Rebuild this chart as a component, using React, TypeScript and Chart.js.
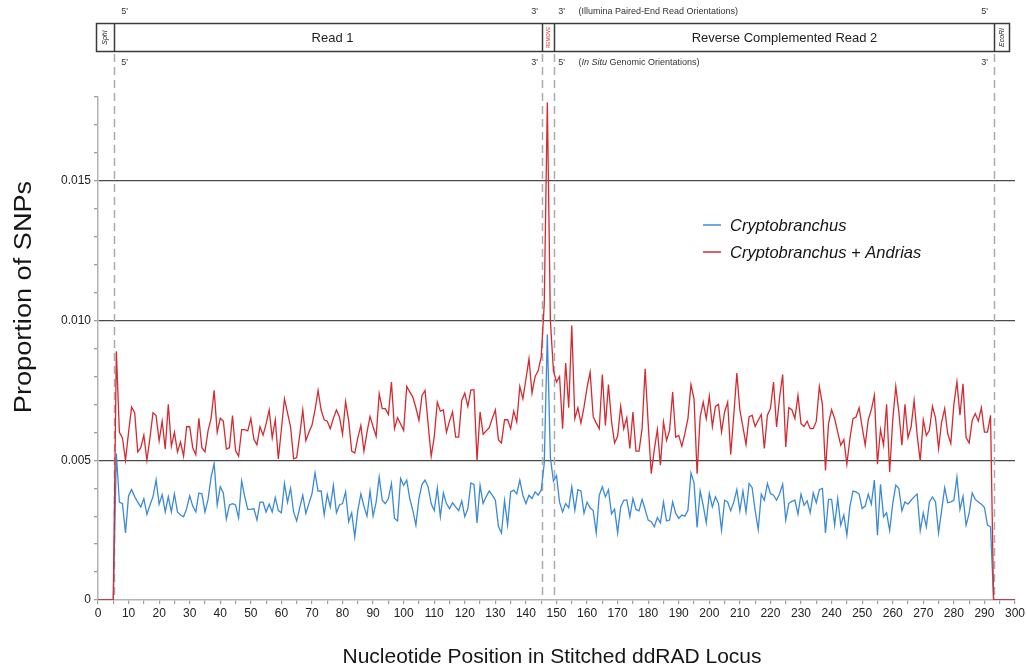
import React, { useEffect, useRef } from "react";
import { Chart, registerables } from "chart.js";

Chart.register(...registerables);

// Nucleotide positions 0..300 (x categories)
const positions: number[] = Array.from({ length: 301 }, (_, i) => i);

// Proportion of SNPs per position – Cryptobranchus (blue)
const cryptobranchus: number[] = [
  0, 0, 0, 0, 0, 0, 0.00524, 0.0035, 0.00345, 0.0024,
  0.00373, 0.00395, 0.0037, 0.0035, 0.00333, 0.00363, 0.00306, 0.0034, 0.0037, 0.0043,
  0.00343, 0.00377, 0.00315, 0.0037, 0.00315, 0.0038, 0.00315, 0.00304, 0.00298, 0.00327,
  0.00373, 0.00336, 0.00315, 0.00383, 0.0038, 0.00315, 0.0036, 0.0044, 0.00488, 0.0034,
  0.00405, 0.00383, 0.0029, 0.0034, 0.00345, 0.0034, 0.00294, 0.00426, 0.0037, 0.00324,
  0.00324, 0.00327, 0.00286, 0.0035, 0.0035, 0.00315, 0.00343, 0.00315, 0.00367, 0.0032,
  0.00312, 0.00417, 0.0035, 0.004, 0.00315, 0.00283, 0.0033, 0.00375, 0.0031, 0.00345,
  0.0038, 0.00455, 0.0039, 0.0039, 0.00305, 0.00378, 0.00333, 0.0041, 0.00312, 0.0034,
  0.00345, 0.00387, 0.0028, 0.00312, 0.00226, 0.0032, 0.0038, 0.00336, 0.003, 0.0039,
  0.003, 0.0035, 0.0044, 0.00357, 0.00345, 0.00363, 0.00417, 0.00292, 0.00283, 0.00435,
  0.0041, 0.00429, 0.00363, 0.0032, 0.00268, 0.00363, 0.00414, 0.00429, 0.00405, 0.00345,
  0.0032, 0.004, 0.00298, 0.00383, 0.00345, 0.00327, 0.00348, 0.00333, 0.0032, 0.00355,
  0.00298, 0.00327, 0.00419, 0.00414, 0.00276, 0.0041, 0.00345, 0.0037, 0.0039, 0.00375,
  0.00357, 0.00264, 0.0024, 0.00355, 0.00268, 0.00387, 0.00393, 0.0038, 0.00429, 0.00375,
  0.00345, 0.00375, 0.00363, 0.00387, 0.00375, 0.00393, 0.0049, 0.0095, 0.0051, 0.00425,
  0.00445, 0.0035, 0.00315, 0.00345, 0.0033, 0.00405, 0.00321, 0.00395, 0.0039, 0.0031,
  0.0035, 0.0033, 0.0032, 0.0024, 0.00375, 0.00405, 0.00369, 0.00395, 0.00308, 0.00325,
  0.0024, 0.00332, 0.00357, 0.00358, 0.00298, 0.00363, 0.00324, 0.00319, 0.0036, 0.00324,
  0.00286, 0.0028, 0.00262, 0.00295, 0.00276, 0.00351, 0.00283, 0.00286, 0.00351, 0.0031,
  0.00292, 0.00304, 0.003, 0.00321, 0.00455, 0.00419, 0.0026, 0.0039, 0.00339, 0.00276,
  0.00381, 0.00333, 0.00369, 0.00345, 0.0025, 0.00357, 0.00351, 0.00319, 0.00351, 0.00395,
  0.00319, 0.0039, 0.00315, 0.00417, 0.00402, 0.00319, 0.00252, 0.00379, 0.00357, 0.00417,
  0.00381, 0.00375, 0.00357, 0.0038, 0.00414, 0.00286, 0.00346, 0.00353, 0.00357, 0.00307,
  0.00379, 0.00339, 0.00355, 0.00312, 0.00383, 0.00348, 0.00395, 0.00399, 0.0024, 0.0036,
  0.0036, 0.00268, 0.00363, 0.00268, 0.00304, 0.00232, 0.00336, 0.0039, 0.00387, 0.00379,
  0.00327, 0.00336, 0.00379, 0.00343, 0.00429, 0.00232, 0.00414, 0.00298, 0.00312, 0.00248,
  0.00345, 0.00411, 0.00399, 0.00319, 0.00351, 0.00343, 0.00357, 0.00369, 0.00379, 0.00248,
  0.00312, 0.00262, 0.00351, 0.00369, 0.00351, 0.0024, 0.00321, 0.00402, 0.00348, 0.00351,
  0.00357, 0.0044, 0.00324, 0.00371, 0.00268, 0.0031, 0.00383, 0.0036, 0.00351, 0.00343,
  0.00331, 0.00268, 0.00262, 0, 0, 0, 0, 0, 0, 0,
  0,
];

// Proportion of SNPs per position – Cryptobranchus + Andrias (red)
const cryptobranchusAndrias: number[] = [
  0, 0, 0, 0, 0, 0, 0.0089, 0.006, 0.0058, 0.005,
  0.006, 0.0069, 0.0067, 0.0053, 0.00545, 0.0059, 0.005, 0.0058, 0.0067, 0.0066,
  0.0057, 0.0064, 0.0054, 0.007, 0.0055, 0.006, 0.0053, 0.00565, 0.00515, 0.0062,
  0.0062, 0.00545, 0.0052, 0.0065, 0.00545, 0.0053, 0.00605, 0.0065, 0.0075, 0.006,
  0.0065, 0.0064, 0.0054, 0.00545, 0.0066, 0.00535, 0.00515, 0.0061, 0.0061, 0.00605,
  0.0065, 0.00575, 0.00555, 0.0062, 0.0059, 0.0063, 0.0068, 0.0058, 0.00645, 0.00505,
  0.0061, 0.0072, 0.0067, 0.0062, 0.00505, 0.0051, 0.0059, 0.0068, 0.0057, 0.006,
  0.00625, 0.0068, 0.0075, 0.0068, 0.00645, 0.0064, 0.00613, 0.0065, 0.0068, 0.00655,
  0.00593, 0.0071, 0.00643, 0.00533, 0.00526, 0.0058, 0.00625, 0.00533, 0.006, 0.00657,
  0.0062, 0.00586, 0.00738, 0.00685, 0.00685, 0.00664, 0.0078, 0.00613, 0.00652, 0.0063,
  0.00607, 0.00764, 0.00745, 0.00726, 0.00688, 0.00643, 0.00732, 0.0075, 0.0063, 0.00514,
  0.00583, 0.00708, 0.00676, 0.0068, 0.006, 0.0064, 0.00673, 0.00583, 0.00583, 0.00714,
  0.0074, 0.00693, 0.00752, 0.00752, 0.005, 0.00673, 0.00593, 0.00605, 0.00617, 0.0065,
  0.0068, 0.00574, 0.00562, 0.00645, 0.00645, 0.00613, 0.00676, 0.00637, 0.00764, 0.0072,
  0.0079, 0.00863, 0.0074, 0.008, 0.0082, 0.0087, 0.0106, 0.0178, 0.01, 0.0082,
  0.0078, 0.008, 0.00613, 0.00848, 0.00688, 0.00982, 0.00649, 0.00688, 0.00633, 0.0069,
  0.0076, 0.00815, 0.00657, 0.00633, 0.00613, 0.00807, 0.00625, 0.00771, 0.0064, 0.00562,
  0.00586, 0.00693, 0.00613, 0.00652, 0.00542, 0.00673, 0.00533, 0.00533, 0.00613, 0.00827,
  0.00631, 0.00452, 0.00538, 0.0061, 0.00482, 0.00637, 0.00571, 0.00607, 0.00744, 0.00583,
  0.00589, 0.0055, 0.00595, 0.00649, 0.00771, 0.0072, 0.00452, 0.00655, 0.00708, 0.00649,
  0.00729, 0.00621, 0.00693, 0.007, 0.00601, 0.00673, 0.00708, 0.00521, 0.00661, 0.00812,
  0.00679, 0.00619, 0.00557, 0.00655, 0.00661, 0.00621, 0.00643, 0.00664, 0.00542, 0.00661,
  0.00685, 0.0078, 0.00619, 0.00726, 0.00807, 0.00548, 0.00688, 0.00681, 0.0065, 0.00732,
  0.00631, 0.00621, 0.0064, 0.00613, 0.00613, 0.0064, 0.00764, 0.007, 0.00464, 0.00631,
  0.00681, 0.00649, 0.00601, 0.00554, 0.00574, 0.00486, 0.00577, 0.00649, 0.00655, 0.00688,
  0.00619, 0.00554, 0.00645, 0.00681, 0.00732, 0.00486, 0.0061, 0.00554, 0.007, 0.00458,
  0.00643, 0.00764, 0.00673, 0.00554, 0.007, 0.00581, 0.00619, 0.00714, 0.00589, 0.00498,
  0.00645, 0.00589, 0.00607, 0.00693, 0.00652, 0.00542, 0.00637, 0.00685, 0.00595, 0.0056,
  0.007, 0.0078, 0.00661, 0.00774, 0.00581, 0.00562, 0.00643, 0.00667, 0.0064, 0.00688,
  0.00601, 0.00601, 0.00661, 0, 0, 0, 0, 0, 0, 0,
  0,
];

// Locus section boundaries (nucleotide positions of the dashed lines)
const sectionBounds: number[] = [5.3, 145.4, 149.2, 293.2];
const locusExtent: number[] = [-0.5, 298];
const majorYTicks: number[] = [0, 0.005, 0.01, 0.015];
const seriesNames: string[] = ["Cryptobranchus", "Cryptobranchus + Andrias"];
const seriesColors: string[] = ["#3a8ad6", "#d42a30"];

const FONT = '"Liberation Sans", Arial, Helvetica, sans-serif';

const isMajorY = (v: number) => majorYTicks.some((m) => Math.abs(m - v) < 1e-7);

const decorPlugin = {
  id: "decor",
  beforeDatasetsDraw(chart: any) {
    const { ctx, scales } = chart;
    const x = scales.x;
    const y = scales.y;
    ctx.save();
    ctx.strokeStyle = "#ababab";
    ctx.lineWidth = 1.5;
    ctx.setLineDash([8, 5]);
    for (const b of sectionBounds) {
      const px = Math.round(x.getPixelForValue(b)) + 0.5;
      ctx.beginPath();
      ctx.moveTo(px, 54);
      ctx.lineTo(px, y.getPixelForValue(0));
      ctx.stroke();
    }
    ctx.restore();
  },
  afterDraw(chart: any) {
    const { ctx, scales } = chart;
    const x = scales.x;
    const bx = [
      x.getPixelForValue(locusExtent[0]),
      ...sectionBounds.map((b) => x.getPixelForValue(b)),
      x.getPixelForValue(locusExtent[1]),
    ].map((v) => Math.round(v) + 0.5);
    const top = 23.5;
    const h = 28;
    const mid = top + h / 2;

    ctx.save();
    // header box
    ctx.strokeStyle = "#3a3a3a";
    ctx.lineWidth = 1.5;
    ctx.strokeRect(bx[0], top, bx[5] - bx[0], h);
    for (let i = 1; i < 5; i++) {
      ctx.beginPath();
      ctx.moveTo(bx[i], top);
      ctx.lineTo(bx[i], top + h);
      ctx.stroke();
    }

    ctx.fillStyle = "#1e1e1e";
    ctx.textAlign = "center";
    ctx.textBaseline = "middle";
    ctx.font = `13px ${FONT}`;
    ctx.fillText("Read 1", (bx[1] + bx[2]) / 2 + 4, mid + 0.5);
    ctx.fillText("Reverse Complemented Read 2", (bx[3] + bx[4]) / 2 + 10, mid + 0.5);

    const vertical = (text: string, cx: number, font: string, color: string) => {
      ctx.save();
      ctx.translate(cx, mid);
      ctx.rotate(-Math.PI / 2);
      ctx.font = font;
      ctx.fillStyle = color;
      ctx.fillText(text, 0, 0);
      ctx.restore();
    };
    vertical("SphI", (bx[0] + bx[1]) / 2, `italic 7px ${FONT}`, "#222");
    vertical("REMOVE", (bx[2] + bx[3]) / 2, `5px ${FONT}`, "#e02424");
    vertical("EcoRI", (bx[4] + bx[5]) / 2, `italic 7px ${FONT}`, "#222");

    // orientation labels
    ctx.font = `9px ${FONT}`;
    ctx.fillStyle = "#333";
    const rowTop = 12;
    const rowBot = 62.5;
    ctx.textAlign = "center";
    ctx.fillText("5'", bx[1] + 10, rowTop);
    ctx.fillText("3'", bx[2] - 8, rowTop);
    ctx.fillText("3'", bx[3] + 7, rowTop);
    ctx.fillText("5'", bx[4] - 10, rowTop);
    ctx.fillText("5'", bx[1] + 10, rowBot);
    ctx.fillText("3'", bx[2] - 8, rowBot);
    ctx.fillText("5'", bx[3] + 7, rowBot);
    ctx.fillText("3'", bx[4] - 10, rowBot);
    ctx.textAlign = "left";
    ctx.fillText("(Illumina Paired-End Read Orientations)", bx[3] + 24, rowTop);
    let cx = bx[3] + 24;
    const parts: [string, boolean][] = [
      ["(", false],
      ["In Situ", true],
      [" Genomic Orientations)", false],
    ];
    for (const [t, it] of parts) {
      ctx.font = `${it ? "italic " : ""}9px ${FONT}`;
      ctx.fillText(t, cx, rowBot);
      cx += ctx.measureText(t).width;
    }

    // legend
    const legendY = [225, 252];
    for (let i = 0; i < 2; i++) {
      ctx.strokeStyle = seriesColors[i];
      ctx.lineWidth = 1.5;
      ctx.beginPath();
      ctx.moveTo(703, legendY[i]);
      ctx.lineTo(721, legendY[i]);
      ctx.stroke();
      ctx.font = `italic 16.5px ${FONT}`;
      ctx.fillStyle = "#151515";
      ctx.textAlign = "left";
      ctx.fillText(seriesNames[i], 730, legendY[i] + 1);
    }

    // axis titles
    ctx.fillStyle = "#151515";
    ctx.textAlign = "center";
    ctx.font = `21px ${FONT}`;
    ctx.fillText("Nucleotide Position in Stitched ddRAD Locus", 552, 657);
    ctx.save();
    ctx.translate(25, 297);
    ctx.rotate(-Math.PI / 2);
    ctx.scale(1.18, 1);
    ctx.font = `23px ${FONT}`;
    ctx.fillText("Proportion of SNPs", 0, 0);
    ctx.restore();

    ctx.restore();
  },
};

export default function App() {
  const canvasRef = useRef<HTMLCanvasElement | null>(null);

  useEffect(() => {
    const canvas = canvasRef.current;
    if (!canvas) return;
    const chart = new Chart(canvas, {
      type: "line",
      data: {
        datasets: [
          {
            label: seriesNames[0],
            data: positions.map((p, i) => ({ x: p, y: cryptobranchus[i] })),
            borderColor: seriesColors[0],
            backgroundColor: seriesColors[0],
            borderWidth: 1.3,
            pointRadius: 0,
            tension: 0,
            order: 2,
          },
          {
            label: seriesNames[1],
            data: positions.map((p, i) => ({ x: p, y: cryptobranchusAndrias[i] })),
            borderColor: seriesColors[1],
            backgroundColor: seriesColors[1],
            borderWidth: 1.3,
            pointRadius: 0,
            tension: 0,
            order: 1,
          },
        ],
      },
      options: {
        responsive: false,
        animation: false,
        devicePixelRatio: 1,
        layout: { padding: { top: 97, right: 11, left: 0, bottom: 0 } },
        plugins: { legend: { display: false }, tooltip: { enabled: false } },
        scales: {
          x: {
            type: "linear",
            min: 0,
            max: 300,
            afterFit: (s: any) => {
              s.height = 70;
            },
            border: { color: "#b4b4b4", width: 1.5 },
            grid: { drawOnChartArea: false, tickLength: 4, tickColor: "#9c9c9c", lineWidth: 1.2 },
            ticks: {
              stepSize: 5,
              autoSkip: false,
              maxRotation: 0,
              minRotation: 0,
              padding: 2,
              color: "#222",
              font: { family: FONT, size: 12 },
              callback: (v: any) => (Math.round(Number(v)) % 10 === 0 ? String(Math.round(Number(v))) : ""),
            },
          },
          y: {
            min: 0,
            max: 0.018,
            afterFit: (s: any) => {
              s.width = 98;
            },
            border: { color: "#b4b4b4", width: 1.5 },
            grid: {
              color: (c: any) => (c.tick && c.tick.value > 0 && isMajorY(c.tick.value) ? "#4a4a4a" : "rgba(0,0,0,0)"),
              lineWidth: 1.3,
              tickLength: 4,
              tickColor: "#9c9c9c",
            },
            ticks: {
              stepSize: 0.001,
              autoSkip: false,
              padding: 3,
              color: "#222",
              font: { family: FONT, size: 12 },
              callback: (v: any) => {
                const n = Number(v);
                if (!isMajorY(n)) return "";
                return n === 0 ? "0" : n.toFixed(3);
              },
            },
          },
        },
      },
      plugins: [decorPlugin],
    } as any);
    return () => chart.destroy();
  }, []);

  return (
    <div style={{ position: "fixed", left: 0, top: 0, width: 1027, height: 670, background: "#fff" }}>
      <canvas ref={canvasRef} width={1027} height={670} style={{ display: "block", width: 1027, height: 670 }} />
    </div>
  );
}
